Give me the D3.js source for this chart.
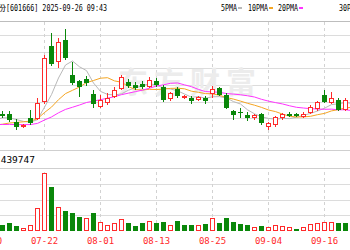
<!DOCTYPE html>
<html>
<head>
<meta charset="utf-8">
<script src="https://d3js.org/d3.v7.min.js"></script>
<style>
  body { margin: 0; background: #fff; }
  svg { display: block; }
</style>
</head>
<body>
<div id="chart"></div>
<script>
// trading days shown (07-10 and 07-11 sit just off the left edge)
const dates = ["07-10","07-11","07-14","07-15","07-16","07-17","07-18","07-21","07-22","07-23","07-24","07-25",
  "07-28","07-29","07-30","07-31","08-01","08-04","08-05","08-06","08-07","08-08","08-11","08-12","08-13",
  "08-14","08-15","08-18","08-19","08-20","08-21","08-22","08-25","08-26","08-27","08-28","08-29","09-01",
  "09-02","09-03","09-04","09-05","09-08","09-09","09-10","09-11","09-12","09-15","09-16","09-17","09-18",
  "09-19","09-22"];
const tickDates = ["07-10","07-22","08-01","08-13","08-25","09-04","09-16"];

const open  = [7.32,7.34,7.36,7.36,7.28,7.23,7.32,7.31,7.48,8.04,7.88,8.10,7.75,7.69,7.71,7.56,7.43,7.47,7.53,7.61,
  7.68,7.65,7.66,7.63,7.69,7.63,7.51,7.61,7.52,7.52,7.50,7.52,7.56,7.62,7.55,7.39,7.38,7.35,7.32,7.36,7.23,7.25,
  7.32,7.36,7.36,7.33,7.37,7.41,7.55,7.47,7.50,7.40,7.48];
const high  = [7.36,7.35,7.39,7.39,7.31,7.26,7.40,7.52,7.95,8.17,8.12,8.21,7.88,7.70,7.74,7.60,7.55,7.57,7.63,7.75,
  7.71,7.68,7.69,7.73,7.72,7.65,7.58,7.63,7.55,7.54,7.54,7.54,7.64,7.63,7.57,7.40,7.42,7.38,7.36,7.37,7.28,7.34,
  7.37,7.38,7.37,7.38,7.45,7.49,7.60,7.58,7.52,7.52,7.50];
const low   = [7.30,7.29,7.32,7.28,7.20,7.22,7.25,7.30,7.46,7.84,7.82,7.90,7.65,7.53,7.64,7.42,7.42,7.45,7.52,7.60,
  7.62,7.60,7.61,7.62,7.63,7.48,7.49,7.52,7.51,7.46,7.49,7.46,7.52,7.54,7.41,7.30,7.32,7.29,7.30,7.25,7.20,7.23,
  7.30,7.33,7.33,7.32,7.36,7.39,7.47,7.46,7.39,7.39,7.40];
const close = [7.34,7.31,7.34,7.30,7.23,7.25,7.27,7.47,7.92,7.86,8.08,7.92,7.67,7.63,7.67,7.46,7.50,7.52,7.60,7.73,
  7.64,7.62,7.63,7.70,7.65,7.50,7.57,7.54,7.54,7.49,7.53,7.49,7.61,7.55,7.42,7.35,7.37,7.32,7.35,7.27,7.27,7.33,
  7.36,7.34,7.34,7.36,7.43,7.48,7.48,7.52,7.40,7.50,7.42];
// closes of the 27 sessions before 07-10, needed for the moving averages
const earlierClose = [7.42,7.41,7.40,7.39,7.38,7.38,7.39,7.38,7.38,7.37,7.28,7.27,7.26,7.25,7.24,7.24,7.25,7.25,
  7.24,7.24,7.18,7.17,7.19,7.20,7.23,7.30,7.32];

const volume = [120000,140000,120000,154000,100000,60000,120000,454000,1154000,886000,486000,400000,366000,286000,
  254000,354000,180000,114000,154000,234000,166000,100000,154000,206000,166000,186000,114000,206000,114000,114000,
  114000,140000,254000,166000,254000,186000,134000,114000,86000,100000,74000,120000,100000,74000,40000,74000,
  140000,154000,186000,186000,166000,166000,120000];
const volUp = [1,0,0,0,0,1,1,1,1,0,1,0,0,0,1,0,1,1,1,1,0,0,0,1,0,0,1,0,0,0,1,0,1,0,0,0,0,0,1,0,1,1,1,1,0,1,1,1,1,1,0,0,0];
const lastVolume = 439747;

const maDays   = [5, 10, 20, 30];
const maNames  = ["5PMA", "10PMA", "20PMA", "30PMA"];
const maColors = ["#b9b9b9", "#f5a623", "#ff33ff", "#3d9460"];

const W = 350, H = 250;
const red = "#ff2a2a", green = "#0a870a";

const svg = d3.select("#chart").append("svg")
    .attr("width", W).attr("height", H)
    .style("font-family", "'DejaVu Sans Mono', monospace");

const x = d3.scaleBand().domain(dates).range([-16, -16 + dates.length * 7]);
const cx = d => Math.round(x(d) + x.bandwidth() / 2) + 0.5;
const y = d3.scaleLinear().domain([7.15, 8.15]).range([135, 35]);
const yv = d3.scaleLinear().domain([0, 1260000]).range([231, 168]);

// price grid
const priceStep = (8.15 - 7.15) / 6;
svg.append("g").selectAll("line")
  .data(d3.range(-1, 7).map(k => 7.15 + k * priceStep))
  .join("line")
    .attr("x1", 0).attr("x2", W)
    .attr("y1", d => Math.round(y(d)) + 0.5).attr("y2", d => Math.round(y(d)) + 0.5)
    .attr("stroke", "#dcdcdc");

// volume grid
svg.append("g").selectAll("line")
  .data(d3.range(1, 5).map(k => k * 315000))
  .join("line")
    .attr("x1", 0).attr("x2", W)
    .attr("y1", d => Math.round(yv(d)) + 0.5).attr("y2", d => Math.round(yv(d)) + 0.5)
    .attr("stroke", "#dcdcdc");

// vertical date lines
svg.append("g").selectAll("line")
  .data(tickDates)
  .join("line")
    .attr("x1", cx).attr("x2", cx)
    .attr("y1", 22).attr("y2", 232)
    .attr("stroke", "#d2d2d2")
    .attr("stroke-dasharray", "3,3");

// watermark
svg.append("text")
    .attr("x", 118).attr("y", 93)
    .attr("font-family", "'Noto Sans CJK SC'")
    .attr("font-size", 30).attr("font-weight", "bold")
    .attr("letter-spacing", 6)
    .attr("fill", "#ececec")
    .text("东方财富");

// volume label band
svg.append("rect").attr("x", 0).attr("y", 150).attr("width", W).attr("height", 18).attr("fill", "#fff");
svg.append("g").selectAll("line").data([150.5, 168.5]).join("line")
    .attr("x1", 0).attr("x2", W).attr("y1", d => d).attr("y2", d => d)
    .attr("stroke", "#cfcfcf");
svg.append("text")
    .attr("x", 35).attr("y", 163)
    .attr("text-anchor", "end")
    .attr("font-size", 9.5).attr("fill", "#000")
    .text("成交量:" + lastVolume);

// header
svg.append("line").attr("x1", 0).attr("x2", W).attr("y1", 21.5).attr("y2", 21.5).attr("stroke", "#bdbdbd");
svg.append("text").attr("x", 6).attr("y", 11).attr("text-anchor", "end")
    .attr("font-family", "'Noto Sans CJK SC'").attr("font-size", 8.5)
    .text("平煤股份");
svg.append("text").attr("x", 6).attr("y", 11)
    .attr("font-size", 9).attr("textLength", 101).attr("lengthAdjust", "spacingAndGlyphs")
    .text("[601666] 2025-09-26 09:43");

// legend
const legX = [221, 248, 278, 339];
const leg = svg.append("g").selectAll("g").data(maNames).join("g")
    .attr("transform", (d, i) => `translate(${legX[i]},0)`);
leg.append("text").attr("y", 11).attr("font-size", 9)
    .attr("textLength", d => d.length * 4).attr("lengthAdjust", "spacingAndGlyphs")
    .text(d => d);
leg.append("rect").attr("x", d => d.length * 4 + 1).attr("y", 7).attr("width", 4).attr("height", 2)
    .attr("fill", (d, i) => maColors[i]);

// moving averages
const allClose = earlierClose.concat(close);
const off = earlierClose.length;
maDays.forEach((n, m) => {
  const pts = dates.map((d, i) => {
    const k = off + i;
    return [cx(d), y(d3.mean(allClose.slice(k - n + 1, k + 1)))];
  });
  svg.append("path")
      .attr("d", d3.line()(pts))
      .attr("fill", "none")
      .attr("stroke", maColors[m])
      .attr("stroke-width", m === 3 ? 1.4 : 1);
});

// candles
const bars = dates.map((d, i) => ({d, o: open[i], h: high[i], l: low[i], c: close[i], v: volume[i], vu: volUp[i]}));
const candle = svg.append("g").selectAll("g").data(bars).join("g");
candle.each(function(b) {
  const g = d3.select(this);
  const up = b.c >= b.o;
  const col = up ? red : green;
  const xc = cx(b.d);
  const top = Math.round(y(Math.max(b.o, b.c)));
  const bot = Math.max(top + 1, Math.round(y(Math.min(b.o, b.c))));
  g.append("line").attr("x1", xc).attr("x2", xc)
      .attr("y1", Math.round(y(b.h))).attr("y2", top).attr("stroke", col);
  g.append("line").attr("x1", xc).attr("x2", xc)
      .attr("y1", bot).attr("y2", Math.round(y(b.l))).attr("stroke", col);
  if (up) {
    g.append("rect").attr("x", xc - 2).attr("y", top + 0.5)
        .attr("width", 4).attr("height", Math.max(1, bot - top - 1))
        .attr("fill", "#fff").attr("stroke", col);
  } else {
    g.append("rect").attr("x", xc - 2.5).attr("y", top)
        .attr("width", 5).attr("height", bot - top).attr("fill", col);
  }
});

// volume bars
svg.append("g").selectAll("rect").data(bars).join("rect")
    .attr("x", b => b.vu ? cx(b.d) - 2 : cx(b.d) - 2.5)
    .attr("y", b => Math.round(yv(b.v)) + (b.vu ? 0.5 : 0))
    .attr("width", b => b.vu ? 4 : 5)
    .attr("height", b => 231 - Math.round(yv(b.v)) - (b.vu ? 1 : 0))
    .attr("fill", b => b.vu ? "#fff" : green)
    .attr("stroke", b => b.vu ? red : "none");

// date labels
svg.append("g").selectAll("text").data(tickDates).join("text")
    .attr("x", d => cx(d)).attr("y", 244)
    .attr("text-anchor", "middle")
    .attr("font-size", 9).attr("fill", red)
    .text(d => d);
</script>
</body>
</html>
